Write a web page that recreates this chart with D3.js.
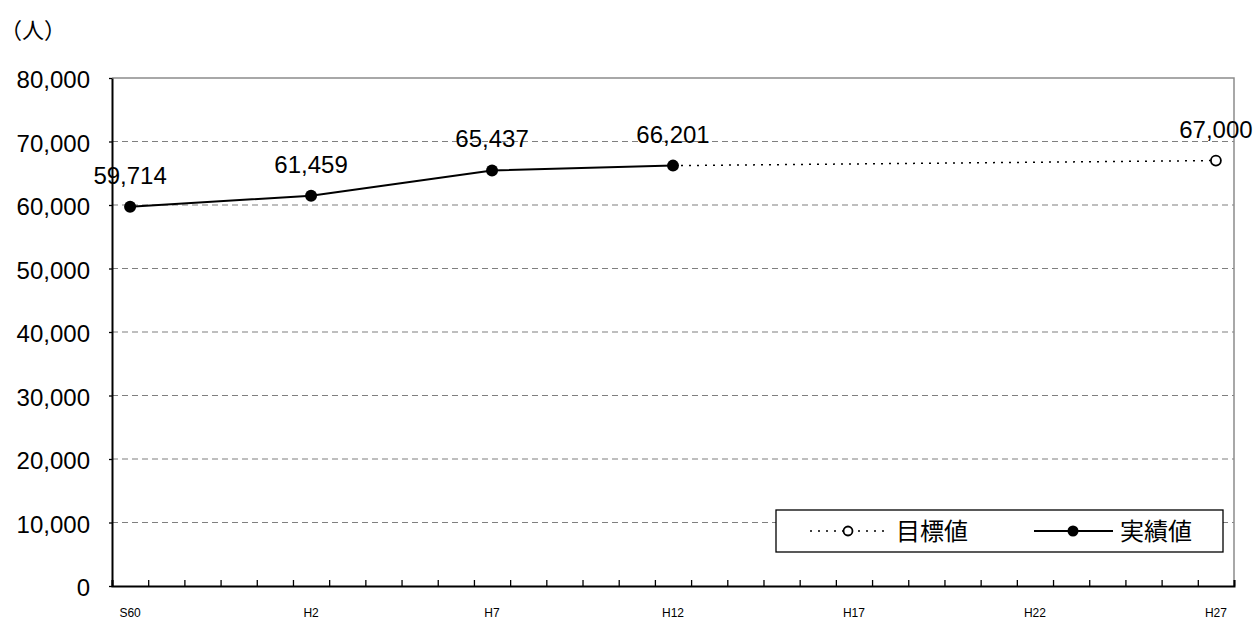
<!DOCTYPE html>
<meta charset="utf-8">
<script src="https://cdn.jsdelivr.net/npm/d3@7"></script>
<style>
  body { margin: 0; background: #fff; }
  text { font-family: "Liberation Sans", Arial, "Noto Sans CJK JP", sans-serif; fill: #000; }
  .jp { font-family: "Noto Sans CJK JP", sans-serif; }
</style>
<body>
<script>
    // categories: S60 (1985) ... H27 (2015), one per year
    var categories = ["S60","S61","S62","S63",
        "H1","H2","H3","H4","H5","H6","H7","H8","H9","H10","H11","H12","H13","H14",
        "H15","H16","H17","H18","H19","H20","H21","H22","H23","H24","H25","H26","H27"];
    var tickLabels = ["S60","H2","H7","H12","H17","H22","H27"];

    // 実績値 (actual)
    var actualYears = ["S60","H2","H7","H12"];
    var actualValues = [59714, 61459, 65437, 66201];

    // 目標値 (target)
    var targetYears = ["H12","H27"];
    var targetValues = [66201, 67000];

    var yTicks = [0,10000,20000,30000,40000,50000,60000,70000,80000];

    var W = 1255, H = 621;
    var plotL = 112, plotR = 1234, plotT = 78, plotB = 586;

    var svg = d3.select("body").append("svg")
        .attr("width", W)
        .attr("height", H);

    var x = d3.scaleBand().domain(categories).range([plotL, plotR]);
    var xEdge = d3.scaleLinear().domain([0, categories.length]).range([plotL, plotR]);
    var y = d3.scaleLinear().domain([0, 80000]).range([plotB, plotT]);
    var fmt = d3.format(",");
    function cx(c) { return x(c) + x.bandwidth()/2; }

    // unit label
    svg.append("text")
        .attr("class", "jp")
        .attr("x", 0)
        .attr("y", 38)
        .style("font-size", "22px")
        .text("（人）");

    // gridlines
    svg.append("g").selectAll("line")
        .data(yTicks.filter(function(d) { return d > 0 && d < 80000; }))
        .enter().append("line")
        .attr("x1", plotL).attr("x2", plotR)
        .attr("y1", function(d) { return y(d); })
        .attr("y2", function(d) { return y(d); })
        .style("stroke", "#7f7f7f")
        .style("stroke-width", 1.2)
        .style("stroke-dasharray", "6,4");

    // top / right frame
    svg.append("path")
        .attr("d", "M" + plotL + "," + plotT + "H" + plotR + "V" + plotB)
        .style("fill", "none")
        .style("stroke", "#8c8c8c")
        .style("stroke-width", 1.5);

    // y axis
    var yAxis = svg.append("g")
        .attr("transform", "translate(" + plotL + ",0)")
        .call(d3.axisLeft(y).tickValues(yTicks).tickSize(3).tickSizeOuter(0).tickPadding(19).tickFormat(fmt));
    yAxis.select(".domain").style("stroke", "#000").style("stroke-width", 2);
    yAxis.selectAll(".tick line").style("stroke", "#000").style("stroke-width", 1.3);
    yAxis.selectAll("text")
        .style("font-size", "24px")
        .attr("dy", "0.4em");

    // x axis: ticks at year boundaries, pointing inward
    var xAxis = svg.append("g")
        .attr("transform", "translate(0," + plotB + ")")
        .call(d3.axisBottom(xEdge).ticks(categories.length).tickSize(-6).tickFormat(""));
    xAxis.select(".domain").style("stroke", "#000").style("stroke-width", 2);
    xAxis.selectAll(".tick line").style("stroke", "#000").style("stroke-width", 1.3);

    svg.append("g").selectAll("text")
        .data(tickLabels)
        .enter().append("text")
        .attr("x", function(d) { return cx(d); })
        .attr("y", 617)
        .attr("text-anchor", "middle")
        .style("font-size", "12px")
        .text(function(d) { return d; });

    var line = d3.line()
        .x(function(d) { return cx(d[0]); })
        .y(function(d) { return y(d[1]); });

    // target line (dotted)
    var targetData = d3.zip(targetYears, targetValues);
    svg.append("path")
        .datum(targetData)
        .attr("d", line)
        .style("fill", "none")
        .style("stroke", "#000")
        .style("stroke-width", 1.5)
        .style("stroke-dasharray", "2,6");

    svg.append("g").selectAll("circle")
        .data(targetData.slice(1))
        .enter().append("circle")
        .attr("cx", function(d) { return cx(d[0]); })
        .attr("cy", function(d) { return y(d[1]); })
        .attr("r", 5)
        .style("fill", "#fff")
        .style("stroke", "#000")
        .style("stroke-width", 1.8);

    // actual line
    var actualData = d3.zip(actualYears, actualValues);
    svg.append("path")
        .datum(actualData)
        .attr("d", line)
        .style("fill", "none")
        .style("stroke", "#000")
        .style("stroke-width", 2);

    svg.append("g").selectAll("circle")
        .data(actualData)
        .enter().append("circle")
        .attr("cx", function(d) { return cx(d[0]); })
        .attr("cy", function(d) { return y(d[1]); })
        .attr("r", 6)
        .style("fill", "#000");

    // data labels
    var labelData = actualData.concat(targetData.slice(1));
    svg.append("g").selectAll("text")
        .data(labelData)
        .enter().append("text")
        .attr("x", function(d) { return cx(d[0]); })
        .attr("y", function(d) { return y(d[1]) - 23; })
        .attr("text-anchor", "middle")
        .style("font-size", "24px")
        .text(function(d) { return fmt(d[1]); });

    // legend
    var lg = svg.append("g");
    lg.append("rect")
        .attr("x", 776).attr("y", 510)
        .attr("width", 447).attr("height", 42)
        .style("fill", "#fff")
        .style("stroke", "#000")
        .style("stroke-width", 1.3);

    var ly = 531;
    lg.append("line")
        .attr("x1", 810).attr("x2", 886).attr("y1", ly).attr("y2", ly)
        .style("stroke", "#000").style("stroke-width", 1.5)
        .style("stroke-dasharray", "2,6");
    lg.append("circle")
        .attr("cx", 848).attr("cy", ly).attr("r", 4.5)
        .style("fill", "#fff").style("stroke", "#000").style("stroke-width", 1.8);
    lg.append("text")
        .attr("class", "jp")
        .attr("x", 896).attr("y", ly + 9)
        .style("font-size", "24px")
        .text("目標値");

    lg.append("line")
        .attr("x1", 1034).attr("x2", 1113).attr("y1", ly).attr("y2", ly)
        .style("stroke", "#000").style("stroke-width", 2);
    lg.append("circle")
        .attr("cx", 1073).attr("cy", ly).attr("r", 5.5)
        .style("fill", "#000");
    lg.append("text")
        .attr("class", "jp")
        .attr("x", 1120).attr("y", ly + 9)
        .style("font-size", "24px")
        .text("実績値");
</script>
</body>
